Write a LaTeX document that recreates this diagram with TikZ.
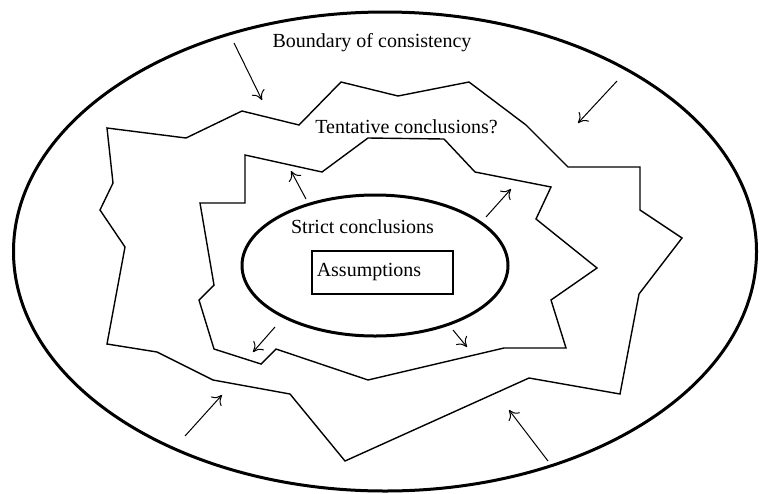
\documentclass[tikz,border=0pt]{standalone}
\usepackage{fontspec}
\setmainfont{Liberation Serif}
\usetikzlibrary{arrows.meta, positioning, shapes.geometric}

\begin{document}
\begin{tikzpicture}[x=0.5pt, y=-0.5pt, font=\fontsize{10pt}{12pt}\selectfont,
  thickline/.style={line width=1.5pt},
  zigzag/.style={line width=0.7pt, line join=miter},
  push/.style={line width=0.5pt, -{To[length=4.5pt,width=7pt]}}]
\useasboundingbox (0,0) rectangle (759,493);
% Boundary of consistency
\draw[thickline] (385,251.5) ellipse (371.5 and 239.5);
\node (consist) at (372,43) {Boundary of consistency};
% Outer edge of tentative conclusions
\draw[zigzag] (107,128) -- (186,138) -- (242,111) -- (299,125) -- (341,82)
  -- (398,96) -- (469,82) -- (526,125) -- (568,167) -- (640,167) -- (640,210)
  -- (682,238) -- (639,294) -- (620,394) -- (529,378) -- (345,461) -- (290,394)
  -- (213,380) -- (157,352) -- (107,344) -- (125,247) -- (100,210) -- (113,183) -- cycle;
% Inner edge
\draw[zigzag] (245,155) -- (322,172) -- (368,138) -- (444,139) -- (475,172)
  -- (551,187) -- (536,219) -- (597,268) -- (551,300) -- (566,348) -- (504,348)
  -- (368,380) -- (276,349) -- (261,364) -- (214,349) -- (199,300) -- (214,285)
  -- (200,203) -- (245,203) -- cycle;
\node (tentative) at (406.5,127) {Tentative conclusions?};
% Strict conclusions
\node[thickline, draw, ellipse, minimum width=133pt, minimum height=70.5pt, inner sep=0pt] (strict) at (375,265.5) {};
\node (strictlabel) at (362.5,227) {Strict conclusions};
\node[draw, line width=0.75pt, anchor=west, text width=65.5pt, inner xsep=2.5pt,
  minimum height=21.5pt, align=left] (assume) at (311,272.5) {Assumptions};
% Arrows
\foreach \n/\sx/\sy/\ex/\ey in {in1/234/43/262/100, in2/617/81/578/123,
  in3/185/436/222/395, in4/548/461/509/410, out1/306/199/291/171,
  out2/486/217/511/189, out3/275/327/253/352, out4/453/330/467/347} {
  \coordinate (\n-from) at (\sx,\sy);
  \coordinate (\n-to) at (\ex,\ey);
  \draw[push] (\n-from) -- (\n-to);
}
\end{tikzpicture}
\end{document}
